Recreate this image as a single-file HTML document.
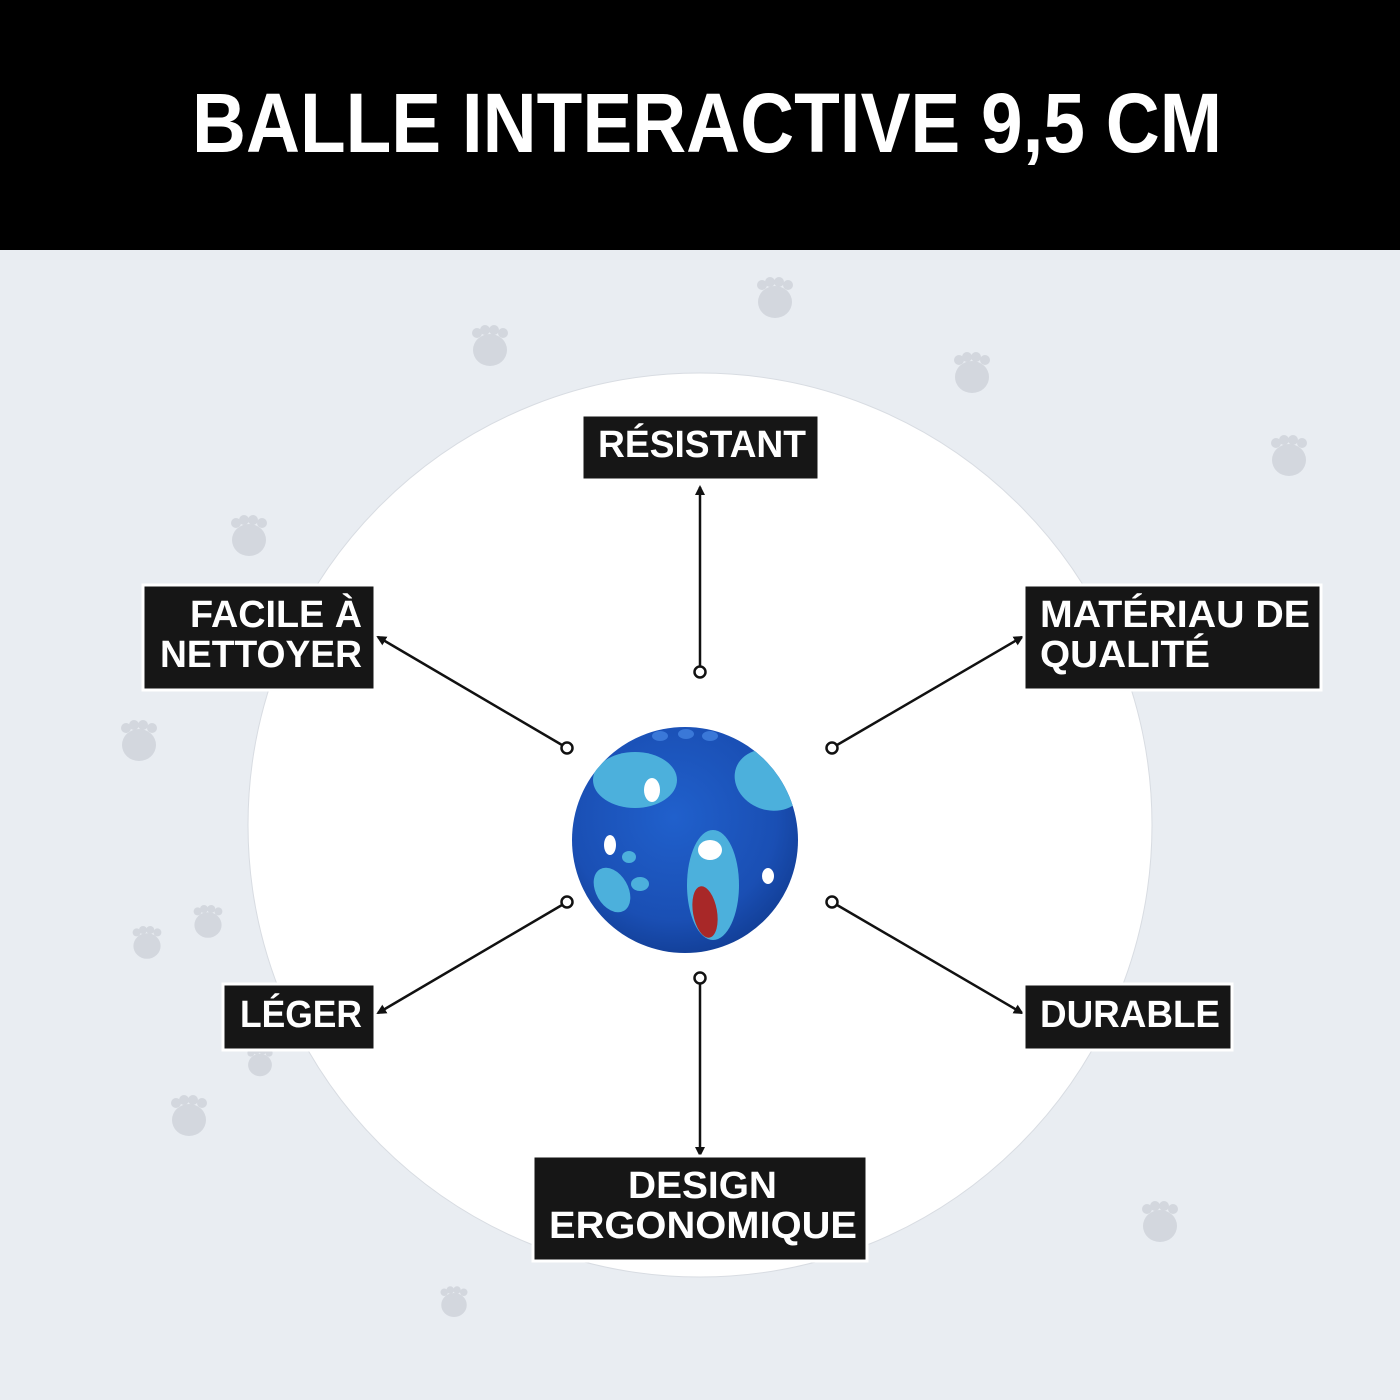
<!DOCTYPE html>
<html><head><meta charset="utf-8"><style>
html,body{margin:0;padding:0;width:1400px;height:1400px;overflow:hidden;background:#e9edf2}
svg{display:block}
text{font-family:"Liberation Sans","DejaVu Sans",sans-serif;font-weight:bold;fill:#fff}
</style></head><body>
<svg width="1400" height="1400" viewBox="0 0 1400 1400" xmlns="http://www.w3.org/2000/svg">
<defs>
<g id="paw" fill="#d3d7de">
<ellipse cx="0" cy="0" rx="17" ry="16"/>
<circle cx="-13" cy="-17" r="5"/><circle cx="-5" cy="-20" r="5"/><circle cx="4" cy="-20" r="5"/><circle cx="13" cy="-17" r="5"/>
</g>
<marker id="ah" markerWidth="10" markerHeight="10" refX="8" refY="5" orient="auto" markerUnits="userSpaceOnUse">
<path d="M0,0 L10,5 L0,10 Z" fill="#111"/></marker>
<radialGradient id="bg" cx="0.45" cy="0.4" r="0.65">
<stop offset="0" stop-color="#2060cc"/><stop offset="0.7" stop-color="#1a4fb4"/><stop offset="1" stop-color="#113c92"/></radialGradient>
<clipPath id="bc"><circle cx="685" cy="840" r="113"/></clipPath>
</defs>
<rect x="0" y="0" width="1400" height="1400" fill="#e9edf2"/>
<rect x="0" y="0" width="1400" height="250" fill="#000"/>
<text x="192" y="152" font-size="84" textLength="1030" lengthAdjust="spacingAndGlyphs">BALLE INTERACTIVE 9,5 CM</text>

<use href="#paw" x="775" y="302"/><use href="#paw" x="490" y="350"/><use href="#paw" x="972" y="377"/>
<use href="#paw" x="1289" y="460"/><use href="#paw" x="249" y="540"/><use href="#paw" x="139" y="745"/>
<use href="#paw" x="208" y="925" transform="translate(208 925) scale(0.8) translate(-208 -925)"/>
<use href="#paw" x="147" y="946" transform="translate(147 946) scale(0.8) translate(-147 -946)"/>
<use href="#paw" x="189" y="1120"/><use href="#paw" x="1160" y="1226"/>
<use href="#paw" x="454" y="1305" transform="translate(454 1305) scale(0.75) translate(-454 -1305)"/>
<use href="#paw" x="260" y="1065" transform="translate(260 1065) scale(0.7) translate(-260 -1065)"/>

<circle cx="700" cy="825" r="452" fill="#fff" stroke="#d8dce2" stroke-width="1"/>

<!-- ball -->
<circle cx="685" cy="840" r="113" fill="url(#bg)"/>
<g clip-path="url(#bc)">
<ellipse cx="635" cy="780" rx="42" ry="28" fill="#4cb0dc"/>
<ellipse cx="770" cy="780" rx="36" ry="30" fill="#4cb0dc" transform="rotate(20 770 780)"/>
<ellipse cx="713" cy="885" rx="26" ry="55" fill="#4cb0dc"/>
<ellipse cx="612" cy="890" rx="16" ry="24" fill="#4cb0dc" transform="rotate(-30 612 890)"/>
<ellipse cx="652" cy="790" rx="8" ry="12" fill="#fff"/>
<ellipse cx="610" cy="845" rx="6" ry="10" fill="#fff"/>
<ellipse cx="629" cy="857" rx="7" ry="6" fill="#4cb0dc"/>
<ellipse cx="640" cy="884" rx="9" ry="7" fill="#4cb0dc"/>
<ellipse cx="768" cy="876" rx="6" ry="8" fill="#fff"/>
<ellipse cx="710" cy="850" rx="12" ry="10" fill="#fff"/>
<ellipse cx="705" cy="912" rx="12" ry="26" fill="#a82828" transform="rotate(-10 705 912)"/>
<ellipse cx="660" cy="736" rx="8" ry="5" fill="#3a78d8"/>
<ellipse cx="686" cy="734" rx="8" ry="5" fill="#3a78d8"/>
<ellipse cx="710" cy="736" rx="8" ry="5" fill="#3a78d8"/>
</g>

<!-- connectors -->
<g stroke="#111" stroke-width="2.5" fill="none">
<line x1="700" y1="667" x2="700" y2="487" marker-end="url(#ah)"/>
<line x1="700" y1="983" x2="700" y2="1155" marker-end="url(#ah)"/>
<line x1="562" y1="745" x2="378" y2="637" marker-end="url(#ah)"/>
<line x1="837" y1="745" x2="1022" y2="637" marker-end="url(#ah)"/>
<line x1="562" y1="905" x2="378" y2="1013" marker-end="url(#ah)"/>
<line x1="837" y1="905" x2="1022" y2="1013" marker-end="url(#ah)"/>
<circle cx="700" cy="672" r="5.5" fill="#fff"/><circle cx="700" cy="978" r="5.5" fill="#fff"/>
<circle cx="567" cy="748" r="5.5" fill="#fff"/><circle cx="832" cy="748" r="5.5" fill="#fff"/>
<circle cx="567" cy="902" r="5.5" fill="#fff"/><circle cx="832" cy="902" r="5.5" fill="#fff"/>
</g>

<!-- labels -->
<g fill="#161616" stroke="#fff" stroke-width="3">
<rect x="582" y="415" width="237" height="65"/>
<rect x="143" y="585" width="232" height="105"/>
<rect x="1024" y="585" width="297" height="105"/>
<rect x="223" y="984" width="152" height="66"/>
<rect x="1024" y="984" width="208" height="66"/>
<rect x="533" y="1156" width="334" height="105"/>
</g>
<text x="598" y="457" font-size="38" textLength="208" lengthAdjust="spacingAndGlyphs">RÉSISTANT</text>
<text x="190" y="627" font-size="38" textLength="172" lengthAdjust="spacingAndGlyphs">FACILE À</text>
<text x="160" y="667" font-size="38" textLength="202" lengthAdjust="spacingAndGlyphs">NETTOYER</text>
<text x="1040" y="627" font-size="38" textLength="270" lengthAdjust="spacingAndGlyphs">MATÉRIAU DE</text>
<text x="1040" y="667" font-size="38" textLength="170" lengthAdjust="spacingAndGlyphs">QUALITÉ</text>
<text x="240" y="1027" font-size="38" textLength="122" lengthAdjust="spacingAndGlyphs">LÉGER</text>
<text x="1040" y="1027" font-size="38" textLength="180" lengthAdjust="spacingAndGlyphs">DURABLE</text>
<text x="628" y="1198" font-size="38" textLength="149" lengthAdjust="spacingAndGlyphs">DESIGN</text>
<text x="549" y="1238" font-size="38" textLength="308" lengthAdjust="spacingAndGlyphs">ERGONOMIQUE</text>
</svg>
</body></html>
